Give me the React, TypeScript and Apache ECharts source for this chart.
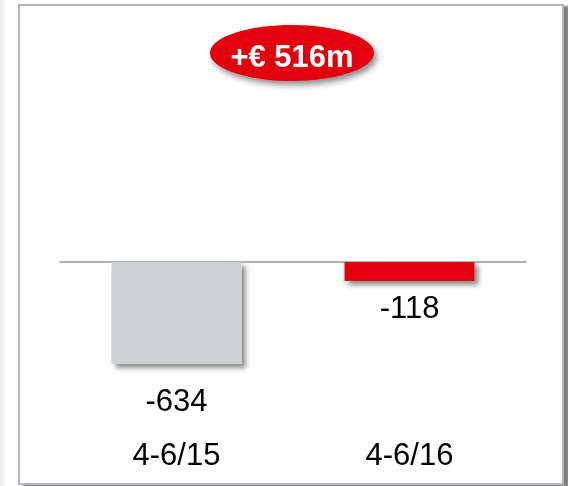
import React, { useEffect, useRef } from 'react';
import * as echarts from 'echarts';

const categories = ['4-6/15', '4-6/16'];
const values = [-634, -118];
const barColors = ['#ccd2d2', '#e2000f'];
const badgeText = '+€ 516m';
const labelGaps = [21, 11];

const FONT = '"Liberation Sans", Arial, sans-serif';

export default function App() {
  const ref = useRef<HTMLDivElement>(null);
  useEffect(() => {
    const chart = echarts.init(ref.current!, null, { renderer: 'svg' });
    chart.setOption({
      animation: false,
      grid: { left: 60, top: 262, width: 466, height: 161 },
      xAxis: [
        {
          type: 'category',
          data: categories,
          position: 'bottom',
          axisLine: { show: false },
          axisTick: { show: false },
          axisLabel: { fontSize: 31, color: '#000', fontFamily: FONT, margin: 16 },
        },
        {
          type: 'category',
          data: categories,
          position: 'top',
          axisLine: { show: true, lineStyle: { color: '#9a9a9a', width: 1.5 } },
          axisTick: { show: false },
          axisLabel: { show: false },
        },
      ],
      yAxis: { type: 'value', min: -1000, max: 0, show: false },
      series: [
        {
          type: 'bar',
          barWidth: 130,
          xAxisIndex: 0,
          data: values.map((v, i) => ({
            value: v,
            itemStyle: { color: barColors[i] },
            label: { distance: labelGaps[i] },
          })),
          itemStyle: {
            shadowColor: 'rgba(0,0,0,0.45)',
            shadowBlur: 5,
            shadowOffsetX: 4,
            shadowOffsetY: 4,
          },
          label: {
            show: true,
            position: 'bottom',
            fontSize: 31,
            color: '#000',
            fontFamily: FONT,
            formatter: '{c}',
          },
        },
      ],
      graphic: [
        {
          type: 'rect',
          z: -20,
          shape: { x: 0, y: 0, width: 7, height: 486 },
          style: {
            fill: new echarts.graphic.LinearGradient(0, 0, 1, 0, [
              { offset: 0, color: '#ececec' },
              { offset: 1, color: '#ffffff' },
            ]),
          },
        },
        {
          type: 'rect',
          z: -10,
          shape: { x: 19, y: 5, width: 544, height: 479 },
          style: {
            fill: '#ffffff',
            stroke: '#b2b6ba',
            lineWidth: 2,
            shadowBlur: 2,
            shadowOffsetX: 5,
            shadowOffsetY: 2,
            shadowColor: 'rgba(0,0,0,0.5)',
          },
        },
        {
          type: 'ellipse',
          z: 10,
          shape: { cx: 292, cy: 53, rx: 82, ry: 28 },
          style: {
            fill: '#e2000f',
            shadowBlur: 6,
            shadowOffsetX: 3,
            shadowOffsetY: 4,
            shadowColor: 'rgba(0,0,0,0.45)',
          },
        },
        {
          type: 'text',
          z: 11,
          x: 292,
          y: 56,
          style: {
            text: badgeText,
            fill: '#ffffff',
            fontSize: 31,
            fontWeight: 'bold',
            fontFamily: FONT,
            align: 'center',
            verticalAlign: 'middle',
            textAlign: 'center',
            textVerticalAlign: 'middle',
          },
        },
      ],
    });
    return () => chart.dispose();
  }, []);
  return (
    <div
      ref={ref}
      style={{ position: 'fixed', left: 0, top: 0, width: 568, height: 486 }}
    />
  );
}
